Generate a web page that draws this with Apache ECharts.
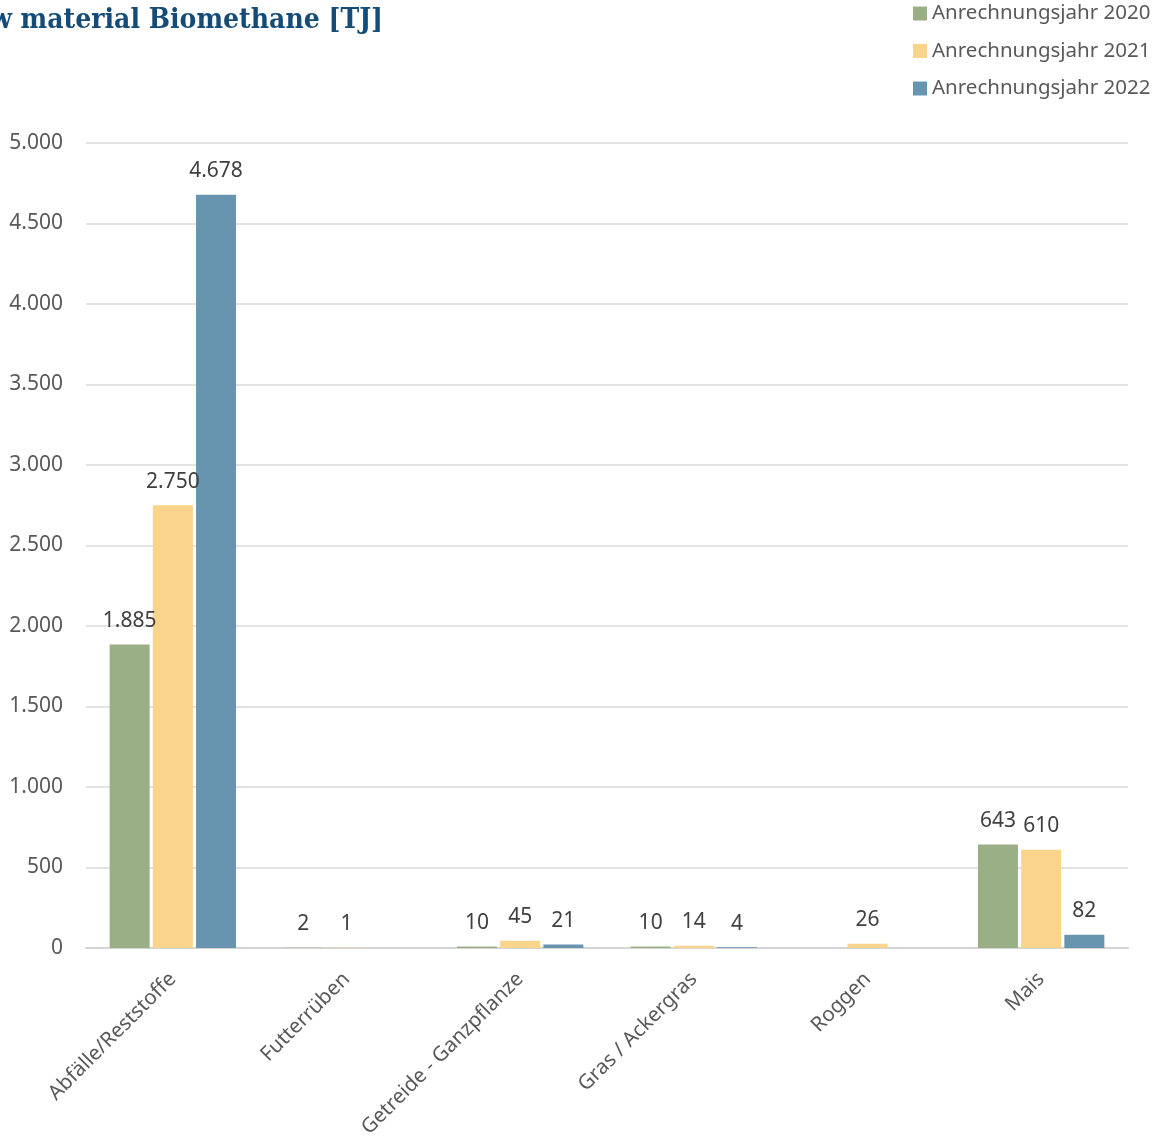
<!DOCTYPE html>
<html>
<head>
<meta charset="utf-8">
<script src="https://cdn.jsdelivr.net/npm/echarts@6/dist/echarts.min.js"></script>
<style>
html,body{margin:0;padding:0;background:#fff;}
#chart{width:1154px;height:1137px;}
</style>
</head>
<body>
<div id="chart"></div>
<script>
const categories = ['Abfälle/Reststoffe', 'Futterrüben', 'Getreide - Ganzpflanze', 'Gras / Ackergras', 'Roggen', 'Mais'];
const seriesNames = ['Anrechnungsjahr 2020', 'Anrechnungsjahr 2021', 'Anrechnungsjahr 2022'];
const values2020 = [1885, 2, 10, 10, null, 643];
const values2021 = [2750, 1, 45, 14, 26, 610];
const values2022 = [4678, null, 21, 4, null, 82];
const titleText = 'Raw material Biomethane [TJ]';

const colors = ['#9BAF87', '#F9D48A', '#6795B0'];
const FONT = 'Noto Sans';

function fmt(v) {
  return String(Math.round(v)).replace(/\B(?=(\d{3})+(?!\d))/g, '.');
}

const chart = echarts.init(document.getElementById('chart'));

function mkSeries(name, data, color) {
  return {
    name: name,
    type: 'bar',
    data: data,
    barWidth: 40,
    barGap: '8%',
    itemStyle: { color: color },
    label: {
      show: true,
      position: 'top',
      distance: 13,
      fontFamily: FONT,
      fontSize: 21,
      color: '#404040',
      formatter: p => (p.value == null ? '' : fmt(p.value))
    }
  };
}

chart.setOption({
  animation: false,
  color: colors,
  graphic: [{
    type: 'text',
    x: 383,
    y: 21,
    style: {
      text: titleText,
      fill: '#154C77',
      font: 'bold 28px "DejaVu Serif Condensed", "DejaVu Serif"',
      textAlign: 'right',
      textVerticalAlign: 'middle'
    }
  }],
  legend: {
    orient: 'vertical',
    left: 908,
    top: -2,
    icon: 'rect',
    itemWidth: 14,
    itemHeight: 14,
    itemGap: 16.5,
    textStyle: { fontFamily: FONT, fontSize: 20.5, color: '#595959', lineHeight: 21 },
    data: seriesNames
  },
  grid: { left: 86, right: 26, top: 143, bottom: 189, containLabel: false, outerBoundsMode: 'none' },
  xAxis: {
    type: 'category',
    data: categories,
    axisLine: { lineStyle: { color: '#D5D5D5', width: 2 } },
    axisTick: { show: false },
    axisLabel: {
      rotate: 45,
      interval: 0,
      margin: 28,
      fontFamily: FONT,
      fontSize: 20.5,
      color: '#595959'
    }
  },
  yAxis: {
    type: 'value',
    min: 0,
    max: 5000,
    interval: 500,
    axisLine: { show: false },
    axisTick: { show: false },
    splitLine: { lineStyle: { color: '#D9D9D9', width: 1.5 } },
    axisLabel: {
      margin: 23,
      fontFamily: FONT,
      fontSize: 21,
      color: '#595959',
      formatter: v => fmt(v)
    }
  },
  series: [
    mkSeries(seriesNames[0], values2020, colors[0]),
    mkSeries(seriesNames[1], values2021, colors[1]),
    mkSeries(seriesNames[2], values2022, colors[2])
  ]
});
</script>
</body>
</html>
